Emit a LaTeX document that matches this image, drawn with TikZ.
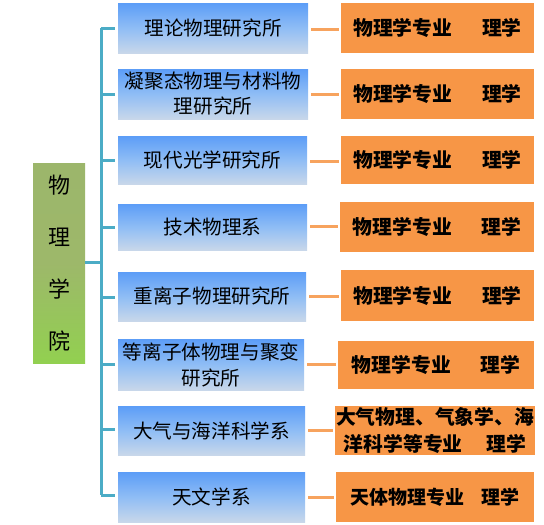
\documentclass[tikz,border=0pt]{standalone}
\usepackage{fontspec}
\newfontfamily\cjk{Noto Sans CJK SC}
\definecolor{blueTop}{HTML}{5C9DF7}
\definecolor{blueMid}{HTML}{8FBDF5}
\definecolor{blueBot}{HTML}{C8D7EA}
\definecolor{orangeF}{HTML}{F79646}
\definecolor{orangeL}{HTML}{F7A35E}
\definecolor{spineC}{HTML}{4BACC6}
\definecolor{greenTop}{HTML}{9CB66B}
\definecolor{greenMid}{HTML}{9DB86A}
\definecolor{greenBot}{HTML}{92D050}
\tikzset{
  bluebox/.style={inner sep=0pt, top color=blueTop, bottom color=blueBot, middle color=blueMid,
    align=center, font=\cjk\fontsize{19.6}{25}\selectfont},
  orangebox/.style={inner sep=0pt, fill=orangeF, align=center,
    font=\cjk\bfseries\fontsize{19.8}{27}\selectfont},
  greenbox/.style={inner sep=0pt, top color=greenTop, bottom color=greenBot, middle color=greenMid,
    align=center, font=\cjk\fontsize{22}{52}\selectfont},
  spine/.style={draw=spineC, line width=3pt},
  oconn/.style={draw=orangeL, line width=3pt, shorten <=3pt, shorten >=2pt},
}
\begin{document}
\begin{tikzpicture}[x=1pt,y=-1pt]
\useasboundingbox (0,0) rectangle (544,525);
% green
\node[greenbox, minimum width=52pt, minimum height=200pt] (g) at (59,263) {物\\理\\学\\院};
% blue boxes
\node[bluebox, minimum width=190pt, minimum height=50pt] (b1) at (213,28) {理论物理研究所};
\node[bluebox, minimum width=190pt, minimum height=50pt] (b2) at (213,94) {凝聚态物理与材料物\\理研究所};
\node[bluebox, minimum width=189pt, minimum height=48pt] (b3) at (212.5,160) {现代光学研究所};
\node[bluebox, minimum width=189pt, minimum height=46pt] (b4) at (212.5,227) {技术物理系};
\node[bluebox, minimum width=188pt, minimum height=49pt] (b5) at (212,296.5) {重离子物理研究所};
\node[bluebox, minimum width=186pt, minimum height=51pt, font=\cjk\fontsize{19.6}{26}\selectfont] (b6) at (211,364.5) {等离子体物理与聚变\\研究所};
\node[bluebox, minimum width=187pt, minimum height=49pt] (b7) at (211.5,430.5) {大气与海洋科学系};
\node[bluebox, minimum width=187pt, minimum height=50pt] (b8) at (211.5,497) {天文学系};
% orange boxes
\node[orangebox, minimum width=193pt, minimum height=50pt] (o1) at (437.5,28) {物理学专业\hspace{1.5em}理学};
\node[orangebox, minimum width=193pt, minimum height=50pt] (o2) at (437.5,94) {物理学专业\hspace{1.5em}理学};
\node[orangebox, minimum width=193pt, minimum height=48pt] (o3) at (437.5,160) {物理学专业\hspace{1.5em}理学};
\node[orangebox, minimum width=194pt, minimum height=50pt] (o4) at (437,227) {物理学专业\hspace{1.5em}理学};
\node[orangebox, minimum width=193pt, minimum height=51pt] (o5) at (437.5,295.5) {物理学专业\hspace{1.5em}理学};
\node[orangebox, minimum width=196pt, minimum height=48pt] (o6) at (436,365) {物理学专业\hspace{1.5em}理学};
\node[orangebox, minimum width=198pt, minimum height=49pt, text width=200pt] (o7) at (435,430.5) {大气物理、气象学、海\\洋科学等专业\hspace{1.2em}理学};
\node[orangebox, minimum width=198pt, minimum height=50pt, font=\cjk\bfseries\fontsize{19}{25}\selectfont] (o8) at (435,497) {天体物理专业\hspace{0.9em}理学};
% spine
\coordinate (st) at (101,28);
\coordinate (sb) at (101,495);
\coordinate (sm) at (101,262);
\draw[spine] (st) -- (sb);
\draw[spine] (g.east |- sm) -- (sm);
\foreach \i/\yy in {1/28,2/94,3/160,4/227,5/297,6/364,7/429,8/495}{
  \coordinate (t\i) at (101,\yy);
  \draw[spine, shorten >=3pt] (t\i) -- (t\i -| b\i.west);
}
% orange connectors
\foreach \i/\yy in {1/29,2/94,3/161,4/226,5/296,6/364,7/430,8/497}{
  \draw[oconn] (b\i.east |- 0,\yy) -- (o\i.west |- 0,\yy);
}
\end{tikzpicture}
\end{document}
